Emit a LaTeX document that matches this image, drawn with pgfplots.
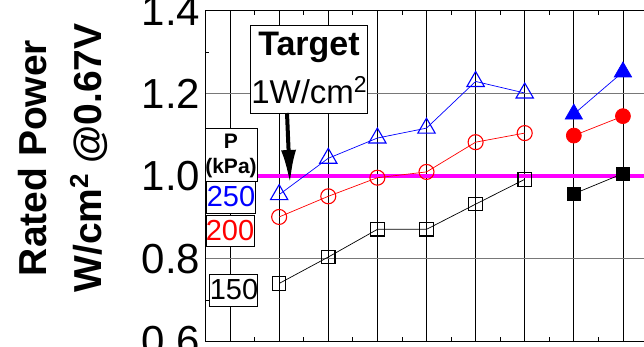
\documentclass[border=0pt]{standalone}
\usepackage{fontspec}
\setmainfont{Liberation Sans}
\usepackage{pgfplots}
\pgfplotsset{compat=1.18}
\usetikzlibrary{arrows.meta}

\definecolor{mag}{RGB}{255,0,255}
\definecolor{gridgray}{RGB}{120,120,120}

% small raised 2 as in the original figure
\newcommand{\sqr}[2]{\raisebox{#2}{\fontsize{#1}{#1}\selectfont 2}}

\begin{document}
\begin{tikzpicture}
\begin{axis}[
    at={(0,0)}, anchor=south west,
    scale only axis,
    width=442pt, height=330.5pt,
    xmin=-0.5, xmax=8.5,
    ymin=0.6, ymax=1.4,
    xtick={0,1,...,8},
    minor x tick num=1,
    xticklabels={},
    ytick={0.6,0.8,1.0,1.2,1.4},
    minor y tick num=1,
    yticklabels={0.6,0.8,1.0,1.2,1.4},
    /pgf/number format/assume math mode=true,
    yticklabel style={font=\fontsize{42}{42}\selectfont, inner sep=0pt, xshift=-5pt},
    xmajorgrids, ymajorgrids,
    x grid style={black, line width=0.8pt},
    y grid style={gridgray, line width=1.1pt},
    major tick length=0pt,
    minor tick length=4pt,
    tick style={black, line width=0.8pt},
    axis line style={black, line width=1.2pt},
    ylabel={Rated Power\\W/cm\sqr{26pt}{13pt} @0.67V},
    ylabel style={at={(rel axis cs:-0.3235,0.5546)}, anchor=center,
        align=center, font=\bfseries\fontsize{39}{55}\selectfont},
]
% target line
\addplot[mag, line width=3.5pt, forget plot] coordinates {(-0.5,1.0) (8.5,1.0)};
% 250 kPa
\addplot[blue, line width=0.7pt, mark=triangle, mark size=10pt, mark options={line width=1.1pt}]
  coordinates {(1,0.955) (2,1.043) (3,1.092) (4,1.116) (5,1.229) (6,1.201)};
\addplot[blue, line width=0.7pt, mark=triangle*, mark size=10pt]
  coordinates {(7,1.150) (8,1.252)};
% 200 kPa
\addplot[red, line width=0.7pt, mark=o, mark size=7.5pt, mark options={line width=1.1pt}]
  coordinates {(1,0.901) (2,0.951) (3,0.996) (4,1.010) (5,1.082) (6,1.104)};
\addplot[red, line width=0.7pt, mark=*, mark size=7.5pt]
  coordinates {(7,1.098) (8,1.145)};
% 150 kPa
\addplot[black, line width=0.7pt, mark=square, mark size=6.7pt, mark options={line width=1.1pt}]
  coordinates {(1,0.740) (2,0.804) (3,0.871) (4,0.871) (5,0.932) (6,0.992)};
\addplot[black, line width=0.7pt, mark=square*, mark size=6.7pt]
  coordinates {(7,0.957) (8,1.006)};
\end{axis}

% annotations, in pixel units of the reference
\begin{scope}[shift={(-205.5pt,341.3pt)}, x=1pt, y=-1pt]
  % target box
  \draw[fill=white, line width=1pt] (250,26) rectangle (367,113);
  \node[anchor=base, inner sep=0pt, font=\bfseries\fontsize{34}{34}\selectfont] at (309,56) {Target};
  \node[anchor=base, inner sep=0pt, font=\fontsize{33}{33}\selectfont] at (309,103) {1W/cm\sqr{23pt}{11pt}};
  \draw[line width=4pt, -{Latex[length=34pt,width=15pt]}] (287,113) -- (290,184);
  % pressure legend
  \draw[fill=white, line width=1pt] (205,128.3) rectangle (257.5,181);
  \node[anchor=base, inner sep=0pt, font=\bfseries\fontsize{21}{21}\selectfont] at (231,148.3) {P};
  \node[anchor=base, inner sep=0pt, font=\bfseries\fontsize{21}{21}\selectfont] at (231,173.5) {(kPa)};
  \draw[fill=white, line width=1pt] (206,181.7) rectangle (255.7,213.3);
  \node[anchor=base, inner sep=0pt, text=blue, font=\fontsize{29}{29}\selectfont] at (231,206.7) {250};
  \draw[fill=white, line width=1pt] (206,215) rectangle (254,246.7);
  \node[anchor=base, inner sep=0pt, text=red, font=\fontsize{29}{29}\selectfont] at (230,240.7) {200};
  \draw[fill=white, line width=1pt] (209,274) rectangle (257.3,306);
  \node[anchor=base, inner sep=0pt, font=\fontsize{29}{29}\selectfont] at (234,299) {150};
  % crop as in the reference
  \pgfresetboundingbox
  \useasboundingbox (0,0) rectangle (644,346);
\end{scope}
\end{tikzpicture}
\end{document}
